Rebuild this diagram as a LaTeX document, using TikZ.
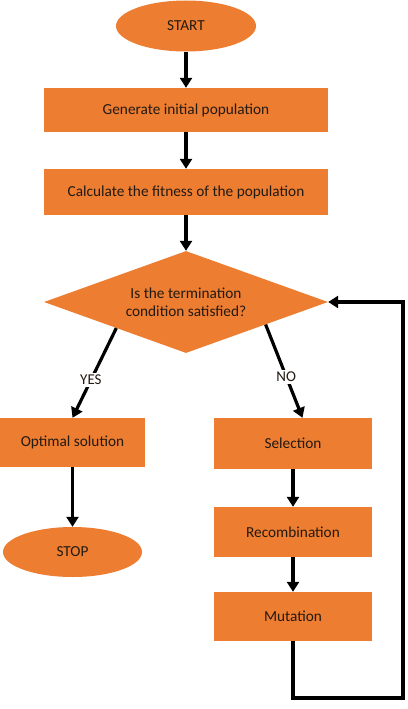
\documentclass[tikz,border=0pt]{standalone}
\usepackage{fontspec}
\setmainfont{Carlito}
\usetikzlibrary{shapes.geometric,arrows.meta,calc}
\definecolor{boxorange}{HTML}{ED7D31}
\definecolor{txt}{HTML}{231A12}
\tikzset{
  base/.style={fill=boxorange, draw=none, text=txt, font=\fontsize{15.3}{18}\selectfont, inner sep=2pt},
  procbox/.style={base, rectangle},
  termnode/.style={base, ellipse, inner sep=0pt},
  decnode/.style={base, diamond, aspect=2.78, inner sep=0pt, align=center},
  flow/.style={line width=3.2pt, draw=black, -{Triangle[width=12pt,length=10pt]}},
  lbl/.style={fill=white, text=txt, font=\fontsize{15}{18}\selectfont, inner sep=2pt}
}
\begin{document}
\begin{tikzpicture}[x=1pt,y=-1pt]
\useasboundingbox (0,0) rectangle (407,709);
\node[termnode, minimum width=140pt, minimum height=51pt] (start) at (186,26) {START};
\node[procbox, minimum width=284pt, minimum height=44pt] (gen) at (186,110) {Generate initial population};
\node[procbox, minimum width=284pt, minimum height=46pt] (calc) at (186,192) {Calculate the fitness of the population};
\node[decnode, minimum width=284pt, minimum height=102pt] (dec) at (186,302) {Is the termination\\condition satisfied?};
\node[procbox, minimum width=145pt, minimum height=49pt] (opt) at (72.5,442.5) {Optimal solution};
\node[termnode, minimum width=139pt, minimum height=50pt] (stop) at (72.5,552) {STOP};
\node[procbox, minimum width=158pt, minimum height=51pt] (sel) at (293,443.5) {Selection};
\node[procbox, minimum width=158pt, minimum height=50pt] (rec) at (293,532) {Recombination};
\node[procbox, minimum width=158pt, minimum height=49pt] (mut) at (293,616.5) {Mutation};
\coordinate (loopc) at (403,698);

\draw[flow] (start.south) -- (gen.north);
\draw[flow] (gen.south) -- (calc.north);
\draw[flow] (calc.south) -- (dec.north);
\draw[flow] ($(dec.west)!0.51!(dec.south)$) -- node[lbl, pos=0.58] {YES} (opt.north);
\draw[flow] ($(dec.east)!0.44!(dec.south)$) -- node[lbl, pos=0.56] {NO} ($(sel.north west)!0.56!(sel.north east)$);
\draw[flow] (opt.south) -- (stop.north);
\draw[flow] (sel.south) -- (rec.north);
\draw[flow] (rec.south) -- (mut.north);
\draw[flow] (mut.south) |- (loopc) |- (dec.east);
\end{tikzpicture}
\end{document}
